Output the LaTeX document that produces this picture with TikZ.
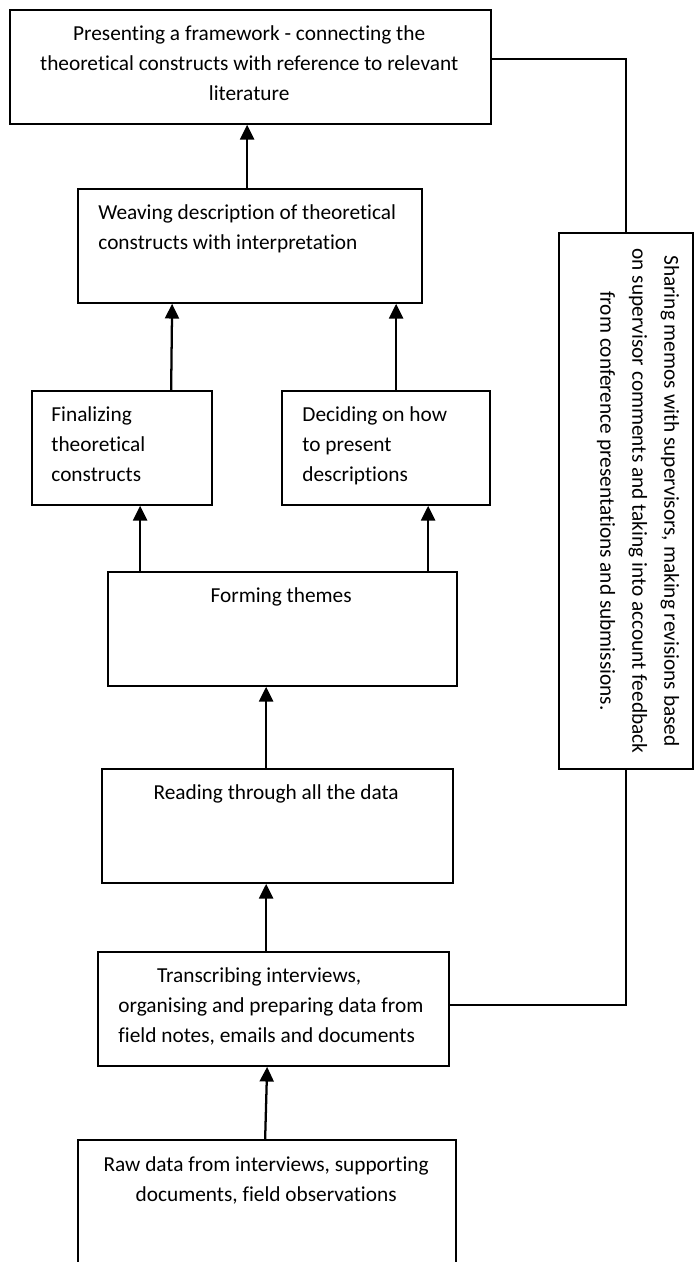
\documentclass[tikz,border=0pt]{standalone}
\usepackage{fontspec}
\setmainfont{Carlito}[Ligatures=NoCommon]
\usetikzlibrary{arrows.meta,fit,calc}
\begin{document}
\begin{tikzpicture}[x=0.75pt,y=-0.75pt,
  box/.style={draw, line width=1.3pt, inner sep=0pt},
  txt/.style={inner sep=0pt, font=\fontsize{16}{22.5}\selectfont},
  arr/.style={line width=1.7pt, -{Triangle[width=10.5pt,length=11pt]}},
  link/.style={line width=1pt}]
\useasboundingbox (0,0) rectangle (695,1262);
% boxes
\node[box, fit={(10,10) (491,124)}] (b1) {};
\node[box, fit={(78,189) (422,303)}] (b2) {};
\node[box, fit={(32,391) (212,505)}] (b3) {};
\node[box, fit={(282,391) (490,505)}] (b4) {};
\node[box, fit={(108,572) (457,686)}] (b5) {};
\node[box, fit={(102,769) (453,883)}] (b6) {};
\node[box, fit={(98,952) (449,1066)}] (b7) {};
\begin{scope}
\clip (0,0) rectangle (695,1262);
\node[box, fit={(78,1140) (456,1300)}] (b8) {};
\end{scope}
\node[box, fit={(559,233) (693,769)}] (bs) {};
% texts
\node[txt, align=center, anchor=north] (t1) at ($(b1.north west)+(240,16)$)
  {Presenting a framework - connecting the\\theoretical constructs with reference to relevant\\literature};
\node[txt, align=left, anchor=north west] (t2) at ($(b2.north west)+(21,16)$)
  {Weaving description of theoretical\\constructs with interpretation};
\node[txt, align=left, anchor=north west] (t3) at ($(b3.north west)+(20,16)$)
  {Finalizing\\theoretical\\constructs};
\node[txt, align=left, anchor=north west] (t4) at ($(b4.north west)+(21,16)$)
  {Deciding on how\\to present\\descriptions};
\node[txt, align=center, anchor=north] (t5) at ($(b5.north west)+(174,16)$)
  {Forming themes};
\node[txt, align=center, anchor=north] (t6) at ($(b6.north west)+(175,16)$)
  {Reading through all the data};
\node[txt, align=left, anchor=north west] (t7) at ($(b7.north west)+(21,16)$)
  {\hspace*{29pt}Transcribing interviews,\\organising and preparing data from\\field notes, emails and documents};
\node[txt, align=center, anchor=north] (t8) at ($(b8.north west)+(189,17)$)
  {Raw data from interviews, supporting\\documents, field observations};
\node[txt, align=center, rotate=-90, font=\fontsize{16}{24}\selectfont] (ts) at (638,501)
  {Sharing memos with supervisors, making revisions based\\on supervisor comments and taking into account feedback\\from conference presentations and submissions.};
% arrows
\draw[arr] ($(b2.north west)+(170,0)$) -- ($(b1.south west)+(238,0)$);
\draw[arr] ($(b3.north west)+(140,0)$) -- ($(b2.south west)+(95,0)$);
\draw[arr] ($(b4.north west)+(115,0)$) -- ($(b2.south west)+(319,0)$);
\draw[arr] ($(b5.north west)+(33,0)$) -- ($(b3.south west)+(109,0)$);
\draw[arr] ($(b5.north west)+(321,0)$) -- ($(b4.south west)+(147,0)$);
\draw[arr] ($(b6.north west)+(165,0)$) -- ($(b5.south west)+(159,0)$);
\draw[arr] ($(b7.north west)+(169,0)$) -- ($(b6.south west)+(165,0)$);
\draw[arr] ($(b8.north west)+(188,0)$) -- ($(b7.south west)+(170,0)$);
% feedback links
\draw[link] ($(b1.north east)+(0,50)$) -| (bs.north);
\draw[link] (bs.south) |- ($(b7.north east)+(0,54)$);
\end{tikzpicture}
\end{document}
